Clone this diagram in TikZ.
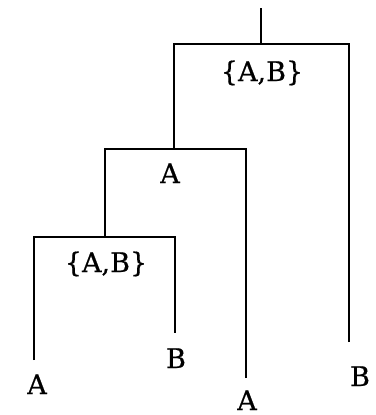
\documentclass[tikz,border=0pt]{standalone}
\usepackage{fontspec}
\setmainfont[FakeBold=0.6]{DejaVu Serif}
\begin{document}
\begin{tikzpicture}[x=1pt,y=-1pt,line width=1.4pt,font=\fontsize{27}{30}\selectfont,
	lbl/.style={anchor=base,inner sep=0pt}]
		\useasboundingbox (0,0) rectangle (375,415);
		\path
		(261,8) coordinate (T)
		(261,44) coordinate (R)
		(174,44) coordinate (RL)
		(349,44) coordinate (RR)
		(174,149) coordinate (P)
		(105,149) coordinate (PL)
		(246,149) coordinate (PR)
		(105,237) coordinate (Q)
		(34,237) coordinate (QL)
		(175,237) coordinate (QR)
		(34,360) coordinate (L1)
		(175,333) coordinate (L2)
		(246,378) coordinate (L3)
		(349,342) coordinate (L4)
		;
		\draw
		(T)--(R)
		(L4)--(RR)--(RL)--(P)
		(L3)--(PR)--(PL)--(Q)
		(L1)--(QL)--(QR)--(L2)
		;
		\path
		(262,81) node[lbl] (rootset) {\{A,B\}}
		(170,183) node[lbl] (midset) {A}
		(106,272) node[lbl] (lowset) {\{A,B\}}
		(37,394) node[lbl] (leafA) {A}
		(176,368) node[lbl] (leafB) {B}
		(247,410) node[lbl] (leafC) {A}
		(360,386) node[lbl] (leafD) {B}
		;
\end{tikzpicture}
\end{document}
